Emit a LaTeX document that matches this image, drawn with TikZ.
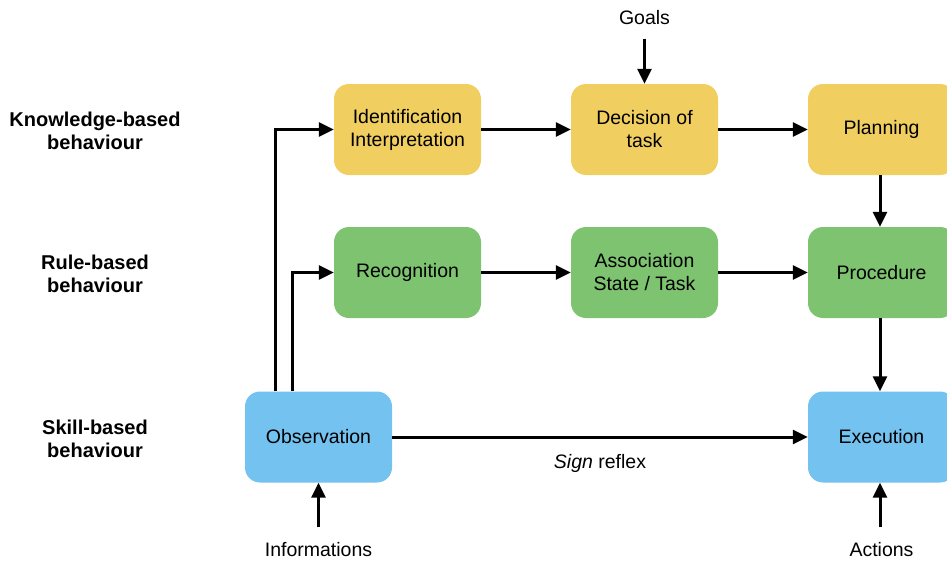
\documentclass[tikz,border=0pt]{standalone}
\usepackage{fontspec}
\setmainfont{Liberation Sans}
\usetikzlibrary{arrows.meta}

\definecolor{knowyellow}{RGB}{240,206,96}
\definecolor{rulegreen}{RGB}{125,195,112}
\definecolor{skillblue}{RGB}{116,194,240}

\begin{document}
\begin{tikzpicture}[
            x=1pt, y=-1pt,
            every node/.style={font=\fontsize{19.5}{23}\selectfont, align=center},
            block/.style={rectangle, rounded corners=15pt, minimum width=147pt, minimum height=91pt, inner sep=0pt},
            know/.style={block, fill=knowyellow},
            rule/.style={block, fill=rulegreen},
            skill/.style={block, fill=skillblue},
            level/.style={font=\bfseries\fontsize{20}{23}\selectfont},
            arr/.style={line width=3pt, -{Triangle[length=15pt,width=14pt]}}
        ]

        \useasboundingbox (0,0) rectangle (947,563);

        % levels
        \node[level] (lknow) at (95,131) {Knowledge-based\\behaviour};
        \node[level] (lrule) at (95,274) {Rule-based\\behaviour};
        \node[level] (lskill) at (95,438.5) {Skill-based\\behaviour};

        % boxes
        \node[know] (ident) at (407.5,129.5) {Identification\\Interpretation};
        \node[know] (decision) at (644.5,129.5) {Decision of\\task};
        \node[know] (planning) at (881.5,129.5) {Planning};

        \node[rule] (recog) at (407.5,272.5) {Recognition};
        \node[rule] (assoc) at (644.5,272.5) {Association\\State / Task};
        \node[rule] (proc) at (881.5,272.5) {Procedure};

        \node[skill] (obs) at (318.5,437) {Observation};
        \node[skill] (exec) at (881.5,437) {Execution};

        % outer texts
        \node (goals) at (644.5,18) {Goals};
        \node (infos) at (318.5,550) {Informations};
        \node (actions) at (881.5,550) {Actions};

        % connectors
        \draw[arr, shorten <=10pt] (goals) -- (decision);
        \draw[arr] (ident) -- (decision);
        \draw[arr] (decision) -- (planning);
        \draw[arr] (planning.south -| 880,0) -- (proc.north -| 880,0);
        \draw[arr] (recog) -- (assoc);
        \draw[arr] (assoc) -- (proc);
        \draw[arr] (proc.south -| 880,0) -- (exec.north -| 880,0);
        \draw[arr] (obs) -- node[below=13pt] {\textit{Sign} reflex} (exec);
        \draw[arr] ([xshift=-43.5pt]obs.north) |- (ident.west);
        \draw[arr] ([xshift=-26.5pt]obs.north) |- (recog.west);
        \draw[arr, shorten <=12pt] (infos) -- (obs);
        \draw[arr, shorten <=12pt] (actions.north -| 880,0) -- (exec.south -| 880,0);

        \end{tikzpicture}
\end{document}
